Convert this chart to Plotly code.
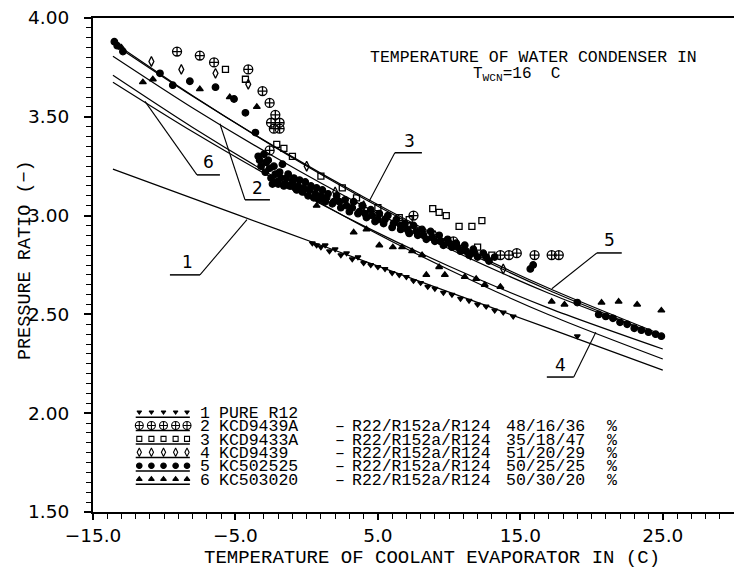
import plotly.graph_objects as go

# ---------------- data ----------------
LINE_X = [-13.6, -8, -2, 4, 10, 17, 25]
FIT_1 = [3.235, 3.087, 2.929, 2.771, 2.613, 2.429, 2.218]
FIT_2 = [3.807, 3.545, 3.286, 3.048, 2.832, 2.607, 2.386]
FIT_3 = [3.878, 3.606, 3.336, 3.087, 2.860, 2.622, 2.386]
FIT_4 = [3.710, 3.446, 3.185, 2.944, 2.726, 2.498, 2.274]
FIT_5 = [3.870, 3.604, 3.339, 3.094, 2.869, 2.632, 2.395]
FIT_6 = [3.675, 3.424, 3.175, 2.948, 2.744, 2.532, 2.325]

S1_X = [0.4, 0.7, 1.0, 1.3, 1.6, 2.0, 2.4, 2.8, 3.2, 3.6, 4.0, 4.5, 5.0, 5.5, 6.0, 6.5,
        7.0, 7.5, 8.0, 8.5, 9.0, 9.6, 10.2, 10.8, 11.4, 12.0, 12.6, 13.2, 13.8, 14.5, 19.0]
S1_Y = [2.86, 2.85, 2.84, 2.85, 2.82, 2.83, 2.80, 2.81, 2.78, 2.79, 2.76, 2.75, 2.74, 2.73, 2.71, 2.70,
        2.69, 2.67, 2.66, 2.64, 2.63, 2.61, 2.60, 2.58, 2.57, 2.55, 2.54, 2.52, 2.51, 2.49, 2.39]

S2_X = [-9.1, -7.5, -6.5, -4.1, -3.1, -2.6, -2.2, -2.5, -1.9, -2.3, -1.9, -2.6, 7.5, 10.3,
        13.6, 14.2, 14.75, 16.0, 17.2, 17.7]
S2_Y = [3.83, 3.81, 3.775, 3.74, 3.63, 3.57, 3.51, 3.47, 3.47, 3.44, 3.44, 3.33, 3.00, 2.87,
        2.80, 2.80, 2.81, 2.80, 2.80, 2.80]

S3_X = [-5.7, -4.3, -2.1, -1.6, -1.0, 1.0, 2.5, 3.5, 5.0, 6.5, 7.2, 8.85, 9.3, 9.8, 10.7, 11.6, 12.3, 12.0, 13.0]
S3_Y = [3.74, 3.69, 3.36, 3.34, 3.30, 3.20, 3.14, 3.09, 3.04, 2.99, 2.98, 3.035, 3.016, 3.00, 2.945, 2.945, 2.975, 2.84, 2.80]

S4_X = [-10.9, -8.8, -6.4, -4.1, 0.0, 2.0, 4.0, 7.0, 9.0, 11.5, 13.8]
S4_Y = [3.78, 3.74, 3.72, 3.665, 3.25, 3.12, 3.05, 2.93, 2.90, 2.80, 2.73]

S5_X = [-13.5, -13.3, -12.9, -10.3, -9.4, -8.2, -6.4, -5.1, -4.3, -3.6,
        -3.4, -3.2, -3.0, -2.9, -2.7, -2.5, -2.3, -2.1, -1.9, -1.7, -1.5, -1.3, -1.1, -0.9,
        -0.7, -0.5, -0.3, -0.1, 0.1, 0.3, 0.5, 0.7, 0.9, 1.1, 1.3, 1.5, 1.8, 2.1, 2.4, 2.7,
        3.0, 3.3, 3.6, 3.9, 4.2, 4.5, 4.8, 5.1, 5.4, 5.7, 6.0, 6.3, 6.6, 6.9, 7.2, 7.5, 7.8,
        8.1, 8.4, 8.7, 9.0, 9.3, 9.6, 9.9, 10.2, 10.5, 10.8, 11.1, 11.4, 11.7, 12.0, 12.4,
        12.8, 13.2, -2.4, -2.0, -1.6, -1.2, -0.8, 15.7, 15.9,
        -3.3, -2.85, -2.6, -2.2, -1.8, -1.4, -1.0, -0.6, -0.2, 0.2, 0.6, 1.0, 1.4, 1.9, 2.3,
        2.8, 3.2, 3.7, 4.1, 4.6, 5.0, 5.5, 6.1, 6.6, 7.1, 7.7, 8.2, 8.8, 9.4, 10.0, 10.6,
        11.2, 11.8, 12.6,
        19.0, 20.5, 21.0, 21.5, 22.0, 22.5, 23.0, 23.5, 24.0, 24.5, 24.9]
S5_Y = [3.88, 3.86, 3.83, 3.72, 3.66, 3.68, 3.65, 3.59, 3.52, 3.42,
        3.30, 3.25, 3.31, 3.22, 3.28, 3.19, 3.25, 3.17, 3.22, 3.26, 3.16, 3.21, 3.15, 3.19,
        3.13, 3.18, 3.12, 3.17, 3.10, 3.15, 3.09, 3.14, 3.08, 3.13, 3.07, 3.11, 3.06, 3.10, 3.04, 3.08,
        3.02, 3.07, 3.01, 3.05, 2.99, 3.03, 2.97, 3.01, 2.96, 3.00, 2.94, 2.98, 2.93, 2.96, 2.91, 2.95, 2.90,
        2.93, 2.88, 2.92, 2.87, 2.90, 2.85, 2.88, 2.84, 2.86, 2.82, 2.85, 2.80, 2.83, 2.79, 2.81,
        2.77, 2.79, 3.16, 3.16, 3.15, 3.15, 3.14, 2.73, 2.75,
        3.28, 3.27, 3.24, 3.21, 3.19, 3.19, 3.17, 3.15, 3.14, 3.13, 3.11, 3.10, 3.09, 3.07, 3.07,
        3.05, 3.04, 3.02, 3.01, 3.00, 2.98, 2.98, 2.96, 2.95, 2.93, 2.92, 2.90, 2.89, 2.87, 2.86, 2.84,
        2.82, 2.81, 2.79,
        2.56, 2.50, 2.49, 2.48, 2.46, 2.45, 2.43, 2.42, 2.41, 2.40, 2.39]

S6_X = [-13.0, -11.5, -10.8, -7.5, -5.4, -3.5, 0.7, 3.3, 4.2, 5.1, 6.05, 6.7, 7.4, 8.1, 8.4, 9.3,
        9.7, 11.1, 11.9, 12.5, 13.6, 17.2, 18.1, 20.7, 21.9, 23.2, 24.9]
S6_Y = [3.85, 3.675, 3.69, 3.64, 3.60, 3.55, 3.05, 2.915, 2.93, 2.85, 2.84, 2.84, 2.82, 2.80, 2.70, 2.74,
        2.70, 2.69, 2.68, 2.65, 2.64, 2.565, 2.55, 2.56, 2.565, 2.55, 2.52]

SERIES_NUM = ["1", "2", "3", "4", "5", "6"]
SERIES_NAME = ["PURE R12", "KCD9439A", "KCD9433A", "KCD9439", "KC502525", "KC503020"]
SERIES_MIX = ["", "R22/R152a/R124", "R22/R152a/R124", "R22/R152a/R124", "R22/R152a/R124", "R22/R152a/R124"]
SERIES_PCT = ["", "48/16/36", "35/18/47", "51/20/29", "50/25/25", "50/30/20"]

X_TICKS = [-15, -5, 5, 15, 25]
Y_TICKS = [1.5, 2.0, 2.5, 3.0, 3.5, 4.0]

# curve labels: number, text position, underline span, leader end on curve
CURVE_LABELS = [
    ("1", -8.40, 2.765, -9.60, -7.49, 2.700, -4.19, 2.980),
    ("2", -3.42, 3.140, -4.33, -2.58, 3.080, -6.09, 3.465),
    ("3", 7.20, 3.380, 6.19, 8.09, 3.318, 4.37, 3.070),
    ("4", 17.80, 2.245, 16.86, 18.75, 2.183, 20.30, 2.410),
    ("5", 21.28, 2.875, 20.37, 22.12, 2.811, 17.21, 2.630),
    ("6", -6.86, 3.270, -7.70, -6.09, 3.206, -11.35, 3.578),
]

# ---------------- styling ----------------
FONT = "DejaVu Sans"
MONO = "Liberation Mono"
BLACK = "black"
NB = "\u00a0"
SYMBOLS = ["triangle-down", "circle-cross-open", "square-open", "diamond-tall-open", "circle", "triangle-up"]
SIZES = [5, 9, 6, 7, 6.5, 6]

fig = go.Figure()

for ys in [FIT_1, FIT_2, FIT_3, FIT_4, FIT_5, FIT_6]:
    fig.add_trace(go.Scatter(x=LINE_X, y=ys, mode="lines",
                             line=dict(color=BLACK, width=1.2, shape="spline", smoothing=0.8),
                             showlegend=False, hoverinfo="skip"))

series = [(S1_X, S1_Y), (S2_X, S2_Y), (S3_X, S3_Y), (S4_X, S4_Y), (S5_X, S5_Y), (S6_X, S6_Y)]
for i, (xs, ys) in enumerate(series):
    fig.add_trace(go.Scatter(x=xs, y=ys, mode="markers", name=SERIES_NAME[i],
                             marker=dict(symbol=SYMBOLS[i], size=SIZES[i], color=BLACK,
                                         line=dict(color=BLACK, width=1.3)),
                             showlegend=False))

# plotter-style legend (lower left)
LEG_ROW_Y = [2.000, 1.932, 1.864, 1.796, 1.728, 1.660]
LEG_SAMPLE_X = [-11.75, -10.9, -10.05, -9.2, -8.4]
annotations = []
for i in range(6):
    yr = LEG_ROW_Y[i]
    fig.add_trace(go.Scatter(x=[LEG_SAMPLE_X[0] - 0.25, LEG_SAMPLE_X[-1] + 0.2], y=[yr - 0.02, yr - 0.02],
                             mode="lines", line=dict(color=BLACK, width=1.5),
                             showlegend=False, hoverinfo="skip"))
    fig.add_trace(go.Scatter(x=LEG_SAMPLE_X, y=[yr + 0.006] * 5, mode="markers",
                             marker=dict(symbol=SYMBOLS[i], size=SIZES[i] - 1, color=BLACK,
                                         line=dict(color=BLACK, width=1.1)),
                             showlegend=False, hoverinfo="skip"))
    cols = [(-7.63, SERIES_NUM[i]), (-6.30, SERIES_NAME[i])]
    if SERIES_MIX[i]:
        cols += [(1.84, "\u2013"), (3.04, SERIES_MIX[i]), (13.84, SERIES_PCT[i]), (20.95, "%")]
    for xc, txt in cols:
        annotations.append(dict(x=xc, y=yr, xref="x", yref="y", text=txt, showarrow=False,
                                xanchor="left", yanchor="middle",
                                font=dict(family=MONO, size=16.5, color=BLACK)))

# curve number labels with leader lines
shapes = []
for num, tx, ty, ux0, ux1, uy, lx, ly in CURVE_LABELS:
    annotations.append(dict(x=tx, y=ty, xref="x", yref="y", text=num, showarrow=False,
                            xanchor="center", yanchor="middle",
                            font=dict(family=FONT, size=17, color=BLACK)))
    shapes.append(dict(type="line", xref="x", yref="y", x0=ux0, x1=ux1, y0=uy, y1=uy,
                       line=dict(color=BLACK, width=1.5)))
    sx = ux0 if abs(lx - ux0) < abs(lx - ux1) else ux1
    shapes.append(dict(type="line", xref="x", yref="y", x0=sx, x1=lx, y0=uy, y1=ly,
                       line=dict(color=BLACK, width=1.1)))

# condition text
annotations.append(dict(x=4.30, y=3.80, xref="x", yref="y", xanchor="left", yanchor="middle",
                        text="TEMPERATURE OF WATER CONDENSER IN", showarrow=False,
                        font=dict(family=MONO, size=16.5, color=BLACK)))
annotations.append(dict(x=14.7, y=3.715, xref="x", yref="y", xanchor="center", yanchor="middle",
                        text="T<sub>WCN</sub>=16" + NB + NB + "C", showarrow=False,
                        font=dict(family=MONO, size=16, color=BLACK)))

# axis titles
annotations.append(dict(x=0.529, y=-0.093, xref="paper", yref="paper", xanchor="center", yanchor="middle",
                        text="TEMPERATURE OF COOLANT EVAPORATOR IN (C)", showarrow=False,
                        font=dict(family=MONO, size=19, color=BLACK)))
annotations.append(dict(x=-0.106, y=0.51, xref="paper", yref="paper", xanchor="center", yanchor="middle",
                        text="PRESSURE RATIO (\u2212)", showarrow=False, textangle=-90,
                        font=dict(family=MONO, size=18.5, color=BLACK)))

fig.update_layout(
    width=734, height=568,
    margin=dict(l=93, r=0, t=18, b=56),
    paper_bgcolor="white", plot_bgcolor="white",
    font=dict(family=FONT, color=BLACK),
    showlegend=False,
    annotations=annotations,
    shapes=shapes,
    xaxis=dict(range=[-15, 30], tickvals=X_TICKS, tickformat=".1f",
               ticks="outside", ticklen=6, tickwidth=1.5, tickcolor=BLACK,
               minor=dict(dtick=1, tick0=-15, ticks="outside", ticklen=5, tickwidth=1.2, tickcolor=BLACK),
               showline=True, linecolor=BLACK, linewidth=2, mirror=True,
               showgrid=False, zeroline=False,
               tickfont=dict(family=FONT, size=18.5, color=BLACK), ticklabelstandoff=0),
    yaxis=dict(range=[1.5, 4.0], tickvals=Y_TICKS, tickformat=".2f",
               ticks="outside", ticklen=7, tickwidth=1.5, tickcolor=BLACK,
               minor=dict(dtick=0.05, tick0=1.5, ticks="outside", ticklen=5, tickwidth=1.2, tickcolor=BLACK),
               showline=True, linecolor=BLACK, linewidth=2, mirror=False,
               showgrid=False, zeroline=False,
               tickfont=dict(family=FONT, size=18.5, color=BLACK), ticklabelstandoff=11),
)

fig.write_html("out.html")
